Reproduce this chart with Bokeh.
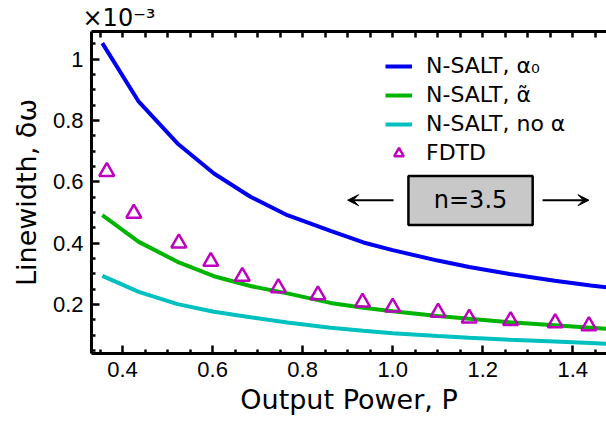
from bokeh.plotting import figure
from bokeh.models import (Range1d, LinearAxis, FixedTicker, Legend, LegendItem,
                          Label, BoxAnnotation, Arrow, VeeHead, Title)
from bokeh.embed import file_html
from bokeh.resources import INLINE

# ---- data (linewidth in units of 1e-3) ----
power_line = [0.355, 0.436, 0.522, 0.603, 0.684, 0.766, 0.862, 0.935, 1.0,
              1.10, 1.17, 1.26, 1.36, 1.44, 1.48]
width_alpha0 = [1.052, 0.861, 0.725, 0.627, 0.551, 0.491, 0.440, 0.402, 0.377,
                0.343, 0.322, 0.299, 0.277, 0.262, 0.255]
width_alphatilde = [0.491, 0.404, 0.339, 0.292, 0.260, 0.236, 0.205, 0.189, 0.178,
                    0.162, 0.153, 0.142, 0.132, 0.124, 0.120]
width_noalpha = [0.293, 0.241, 0.201, 0.176, 0.158, 0.141, 0.124, 0.114, 0.106,
                 0.097, 0.091, 0.085, 0.079, 0.074, 0.071]
power_fdtd = [0.365, 0.425, 0.525, 0.596, 0.666, 0.746, 0.834, 0.933, 1.0,
              1.101, 1.170, 1.262, 1.361, 1.436]
width_fdtd = [0.633, 0.497, 0.400, 0.340, 0.291, 0.254, 0.231, 0.207, 0.191,
              0.174, 0.155, 0.147, 0.140, 0.130]

x_ticks = [0.4, 0.6, 0.8, 1.0, 1.2, 1.4]
x_tick_labels = ["0.4", "0.6", "0.8", "1.0", "1.2", "1.4"]
x_minor = [0.35, 0.45, 0.5, 0.55, 0.65, 0.7, 0.75, 0.85, 0.9, 0.95,
           1.05, 1.1, 1.15, 1.25, 1.3, 1.35, 1.45]
y_ticks = [0.2, 0.4, 0.6, 0.8, 1.0]
y_tick_labels = ["0.2", "0.4", "0.6", "0.8", "1"]
y_minor = [0.05, 0.1, 0.15, 0.25, 0.3, 0.35, 0.45, 0.5, 0.55, 0.65, 0.7,
           0.75, 0.85, 0.9, 0.95, 1.05]

series_labels = ["N-SALT, α₀", "N-SALT, α̃", "N-SALT, no α", "FDTD"]
BLUE, GREEN, CYAN, MAGENTA = "#0000f0", "#00b400", "#00c0c0", "#c000c0"

p = figure(width=606, height=421, output_backend="svg", toolbar_location=None,
           x_range=Range1d(0.331, 1.475), y_range=Range1d(0.04, 1.09),
           min_border_left=91, min_border_right=0, min_border_top=31,
           min_border_bottom=68,
           x_axis_label="Output Power, P", y_axis_label="Linewidth, δω")
p.grid.visible = False
p.outline_line_color = None
p.background_fill_color = "white"
p.border_fill_color = "white"

bottom_axis = p.below[0]
left_axis = p.left[0]

# top axis: tick marks only (all positions as minor ticks -> no label texts)
top_axis = LinearAxis(ticker=FixedTicker(ticks=[], minor_ticks=sorted(x_ticks + x_minor)))
p.add_layout(top_axis, "above")

bottom_axis.ticker = FixedTicker(ticks=x_ticks, minor_ticks=x_minor)
left_axis.ticker = FixedTicker(ticks=y_ticks, minor_ticks=y_minor)
bottom_axis.major_label_overrides = dict(zip(x_ticks, x_tick_labels))
left_axis.major_label_overrides = dict(zip(y_ticks, y_tick_labels))

for ax in [bottom_axis, left_axis, top_axis]:
    ax.axis_line_width = 3
    ax.axis_line_color = "black"
    ax.major_tick_in = 8
    ax.major_tick_out = 0
    ax.minor_tick_in = 4
    ax.minor_tick_out = 0
    ax.major_tick_line_width = 2.5
    ax.minor_tick_line_width = 2.5
    ax.major_tick_line_color = "black"
    ax.minor_tick_line_color = "black"
    ax.major_label_text_font = "Liberation Sans"
    ax.major_label_text_font_size = "22px"
    ax.major_label_text_color = "black"
    ax.major_label_standoff = 8
    ax.axis_label_text_font = "DejaVu Sans"
    ax.axis_label_text_font_size = "27px"
    ax.axis_label_text_font_style = "normal"
    ax.axis_label_text_color = "black"
top_axis.minor_tick_in = 6
bottom_axis.axis_label_standoff = 4
left_axis.axis_label_standoff = 8

r1 = p.line(power_line, width_alpha0, line_color=BLUE, line_width=4)
r2 = p.line(power_line, width_alphatilde, line_color=GREEN, line_width=4)
r3 = p.line(power_line, width_noalpha, line_color=CYAN, line_width=4)
r4 = p.scatter(power_fdtd, width_fdtd, marker="triangle", size=15,
               fill_color=None, line_color=MAGENTA, line_width=2.5)

legend = Legend(items=[LegendItem(label=series_labels[0], renderers=[r1]),
                       LegendItem(label=series_labels[1], renderers=[r2]),
                       LegendItem(label=series_labels[2], renderers=[r3]),
                       LegendItem(label=series_labels[3], renderers=[r4])],
                location=(294, 188))
legend.background_fill_alpha = 0
legend.border_line_color = None
legend.padding = 0
legend.margin = 0
legend.spacing = 4
legend.glyph_width = 27
legend.glyph_height = 24
legend.label_height = 24
legend.label_standoff = 14
legend.label_text_font = "DejaVu Sans"
legend.label_text_font_size = "22px"
legend.label_text_color = "black"
p.add_layout(legend)

# n=3.5 box with arrows
box = BoxAnnotation(left=1.035, right=1.311, bottom=0.459, top=0.619,
                    fill_color="#c8c8c8", fill_alpha=1, line_color="black",
                    line_width=2.5, line_alpha=1)
p.add_layout(box)
p.add_layout(Label(x=1.173, y=0.540, text="n=3.5", text_align="center",
                   text_baseline="middle", text_font="DejaVu Sans",
                   text_font_size="24px", text_color="black"))
p.add_layout(Arrow(x_start=1.002, y_start=0.540, x_end=0.90, y_end=0.540,
                   line_width=2, line_color="black",
                   end=VeeHead(size=11, fill_color="black", line_color="black")))
p.add_layout(Arrow(x_start=1.333, y_start=0.540, x_end=1.436, y_end=0.540,
                   line_width=2, line_color="black",
                   end=VeeHead(size=11, fill_color="black", line_color="black")))

# x10^-3 multiplier as a left-aligned title above the frame
p.add_layout(Title(text="×10⁻³", align="left", offset=-9,
                   text_font="DejaVu Sans", text_font_size="24px",
                   text_font_style="normal", text_color="black",
                   standoff=0), "above")

open("out.html", "w").write(file_html(p, INLINE))
